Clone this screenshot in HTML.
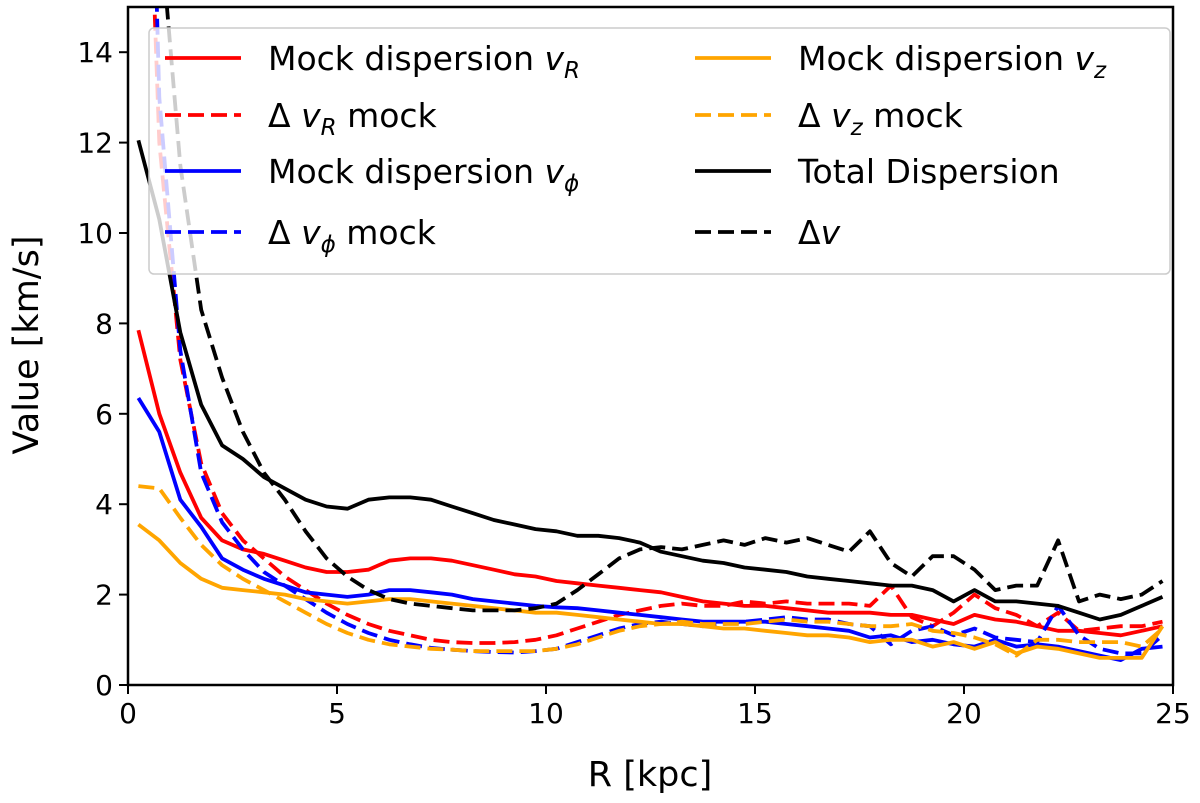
<!DOCTYPE html>
<html><head><meta charset="utf-8"><style>
body{margin:0;background:#fff;}
svg{display:block;font-family:"DejaVu Sans","Liberation Sans",sans-serif;}
</style></head><body>
<svg id="chart" width="1200" height="803">
<defs><clipPath id="plotclip"><rect x="128" y="7" width="1045" height="678"/></clipPath></defs>
<rect x="0" y="0" width="1200" height="803" fill="#fff"/>
<g id="series" clip-path="url(#plotclip)"></g>
<g id="axes"></g>
<g id="legend"></g>
</svg>
<script>
const radii = Array.from({length:50},(_,i)=>0.25+0.5*i);
const xTicks = [0,5,10,15,20,25];
const yTicks = [0,2,4,6,8,10,12,14];
const mockVR = [7.85,6.0,4.7,3.7,3.2,3.0,2.9,2.75,2.6,2.5,2.5,2.55,2.75,2.8,2.8,2.75,2.65,2.55,2.45,2.4,2.3,2.25,2.2,2.15,2.1,2.05,1.95,1.85,1.8,1.75,1.75,1.7,1.65,1.6,1.6,1.6,1.55,1.55,1.45,1.35,1.55,1.45,1.4,1.3,1.2,1.2,1.15,1.1,1.2,1.3];
const deltaVR = [25,12,7.2,4.9,3.8,3.2,2.8,2.4,2.1,1.8,1.55,1.35,1.2,1.1,1.0,0.95,0.93,0.93,0.95,1.0,1.1,1.25,1.4,1.55,1.65,1.75,1.8,1.75,1.75,1.85,1.8,1.85,1.8,1.8,1.8,1.75,2.2,1.5,1.3,1.6,2.0,1.7,1.55,1.3,1.6,1.2,1.25,1.3,1.3,1.4];
const mockVPhi = [6.35,5.6,4.1,3.5,2.8,2.55,2.35,2.2,2.05,2.0,1.95,2.0,2.1,2.1,2.05,2.0,1.9,1.85,1.8,1.75,1.72,1.7,1.65,1.6,1.55,1.5,1.45,1.4,1.4,1.4,1.4,1.35,1.3,1.25,1.2,1.05,1.1,0.95,1.0,0.9,0.85,1.0,0.85,0.9,0.85,0.75,0.65,0.55,0.8,0.85];
const deltaVPhi = [30,13,7.4,4.7,3.6,3.0,2.5,2.2,1.9,1.6,1.35,1.15,1.0,0.9,0.82,0.78,0.75,0.73,0.72,0.75,0.8,0.95,1.1,1.25,1.35,1.4,1.35,1.3,1.35,1.4,1.45,1.5,1.45,1.45,1.35,1.3,0.9,1.2,1.3,1.1,1.25,1.05,1.0,0.95,1.75,1.1,0.8,0.7,0.7,1.1];
const mockVZ = [3.55,3.2,2.7,2.35,2.15,2.1,2.05,2.0,1.9,1.85,1.8,1.85,1.9,1.9,1.85,1.8,1.75,1.7,1.65,1.6,1.6,1.55,1.5,1.45,1.4,1.35,1.35,1.3,1.25,1.25,1.2,1.15,1.1,1.1,1.05,0.95,1.0,1.0,0.85,0.95,0.8,0.95,0.7,0.85,0.8,0.7,0.6,0.6,0.6,1.3];
const deltaVZ = [4.4,4.35,3.7,3.1,2.65,2.35,2.1,1.85,1.6,1.35,1.15,1.0,0.9,0.85,0.8,0.78,0.75,0.75,0.75,0.75,0.8,0.9,1.05,1.2,1.3,1.35,1.4,1.35,1.35,1.35,1.4,1.45,1.4,1.4,1.35,1.3,1.3,1.35,1.2,1.15,1.05,0.9,0.65,1.0,1.0,0.95,0.95,0.95,0.85,1.25];
const totalDisp = [12.05,10.3,7.8,6.2,5.3,5.0,4.6,4.35,4.1,3.95,3.9,4.1,4.15,4.15,4.1,3.95,3.8,3.65,3.55,3.45,3.4,3.3,3.3,3.25,3.15,2.95,2.85,2.75,2.7,2.6,2.55,2.5,2.4,2.35,2.3,2.25,2.2,2.2,2.1,1.85,2.1,1.85,1.85,1.8,1.75,1.6,1.45,1.55,1.75,1.95];
const deltaV = [40,17,11.5,8.3,6.8,5.6,4.7,4.1,3.4,2.8,2.4,2.1,1.9,1.8,1.75,1.7,1.65,1.65,1.65,1.7,1.8,2.1,2.45,2.8,3.0,3.05,3.0,3.1,3.2,3.1,3.25,3.15,3.25,3.1,2.95,3.4,2.7,2.4,2.85,2.85,2.55,2.1,2.2,2.2,3.2,1.85,2.0,1.9,2.0,2.3];

const NS='http://www.w3.org/2000/svg';
const X0=128,X1=1173,Y0=685,YTOP=7;
const xs=v=>X0+(v/25)*(X1-X0);
const ys=v=>Y0-(v/15)*(Y0-YTOP);
function mk(tag,attrs,parent){const e=document.createElementNS(NS,tag);for(const k in attrs)e.setAttribute(k,attrs[k]);parent.appendChild(e);return e;}

const seriesList=[
 {name:'mock-vr-line',vals:mockVR,color:'#ff0000',dash:null},
 {name:'delta-vr-line',vals:deltaVR,color:'#ff0000',dash:'16,7'},
 {name:'mock-vphi-line',vals:mockVPhi,color:'#0000ff',dash:null},
 {name:'delta-vphi-line',vals:deltaVPhi,color:'#0000ff',dash:'16,7'},
 {name:'mock-vz-line',vals:mockVZ,color:'#ffa500',dash:null},
 {name:'delta-vz-line',vals:deltaVZ,color:'#ffa500',dash:'16,7'},
 {name:'total-dispersion-line',vals:totalDisp,color:'#000000',dash:null},
 {name:'delta-v-line',vals:deltaV,color:'#000000',dash:'16,7'}
];
const sg=document.getElementById('series');
seriesList.forEach(s=>{
 const d=s.vals.map((v,i)=>(i?'L':'M')+xs(radii[i]).toFixed(1)+','+ys(v).toFixed(1)).join(' ');
 const p=mk('path',{d:d,fill:'none',stroke:s.color,'stroke-width':3.8,'stroke-linejoin':'round'},sg);
 if(s.dash)p.setAttribute('stroke-dasharray',s.dash);
 
 
});

const ag=document.getElementById('axes');
const frame=mk('rect',{x:X0,y:YTOP,width:X1-X0,height:Y0-YTOP,fill:'none',stroke:'#000','stroke-width':2.5},ag);


xTicks.forEach(t=>{
 const x=xs(t);
 const tk=mk('line',{x1:x,y1:Y0,x2:x,y2:Y0+9,stroke:'#000','stroke-width':2},ag);
 
 
 const tx=mk('text',{x:x,y:Y0+38,'text-anchor':'middle','font-size':28},ag);
 tx.textContent=t;
 
 
});
yTicks.forEach(t=>{
 const y=ys(t);
 const tk=mk('line',{x1:X0-9,y1:y,x2:X0,y2:y,stroke:'#000','stroke-width':2},ag);
 
 
 const tx=mk('text',{x:X0-15,y:y+10,'text-anchor':'end','font-size':28},ag);
 tx.textContent=t;
 
 
});
const xl=mk('text',{x:650,y:786,'text-anchor':'middle','font-size':35},ag);
xl.textContent='R [kpc]';


const yl=mk('text',{x:0,y:0,'text-anchor':'middle','font-size':35,transform:'translate(38,345) rotate(-90)'},ag);
yl.textContent='Value [km/s]';



const lg=document.getElementById('legend');
const box=mk('rect',{x:149,y:28,width:1021,height:246,rx:5,fill:'rgba(255,255,255,0.8)',stroke:'#ccc','stroke-width':1.5},lg);


const legendItems=[
 {col:0,row:0,color:'#ff0000',dash:null,label:'Mock dispersion <tspan font-style="italic">v</tspan><tspan font-style="italic" font-size="23" dy="8">R</tspan>'},
 {col:0,row:1,color:'#ff0000',dash:'16,7',label:'Δ <tspan font-style="italic">v</tspan><tspan font-style="italic" font-size="23" dy="8">R</tspan><tspan dy="-8"> mock</tspan>'},
 {col:0,row:2,color:'#0000ff',dash:null,label:'Mock dispersion <tspan font-style="italic">v</tspan><tspan font-style="italic" font-size="23" dy="8">ϕ</tspan>'},
 {col:0,row:3,color:'#0000ff',dash:'16,7',label:'Δ <tspan font-style="italic">v</tspan><tspan font-style="italic" font-size="23" dy="8">ϕ</tspan><tspan dy="-8"> mock</tspan>'},
 {col:1,row:0,color:'#ffa500',dash:null,label:'Mock dispersion <tspan font-style="italic">v</tspan><tspan font-style="italic" font-size="23" dy="8">z</tspan>'},
 {col:1,row:1,color:'#ffa500',dash:'16,7',label:'Δ <tspan font-style="italic">v</tspan><tspan font-style="italic" font-size="23" dy="8">z</tspan><tspan dy="-8"> mock</tspan>'},
 {col:1,row:2,color:'#000000',dash:null,label:'Total Dispersion'},
 {col:1,row:3,color:'#000000',dash:'16,7',label:'Δ<tspan font-style="italic">v</tspan>'}
];
legendItems.forEach(it=>{
 const lx=it.col?695:165, ly=[58,115,171,232][it.row];
 const l=mk('line',{x1:lx,y1:ly,x2:lx+76,y2:ly,stroke:it.color,'stroke-width':3.8},lg);
 if(it.dash)l.setAttribute('stroke-dasharray',it.dash);
 
 
 const t=mk('text',{x:lx+103,y:ly+12,'font-size':33},lg);
 t.innerHTML=it.label;
 
 
});
</script>
</body></html>
